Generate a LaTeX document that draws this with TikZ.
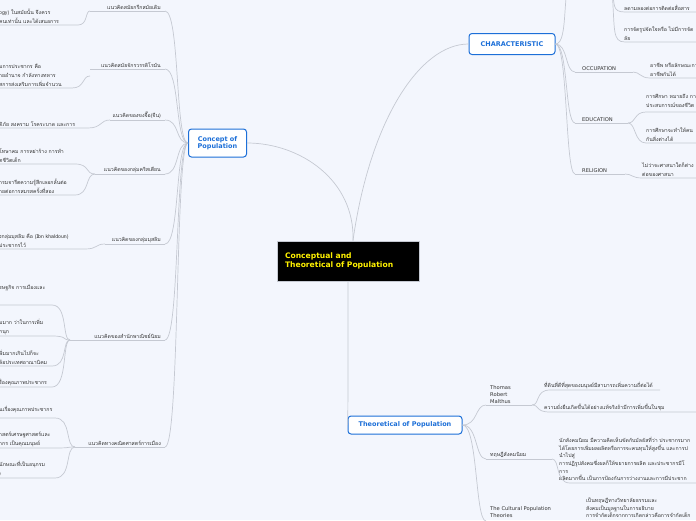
\documentclass[tikz,border=0pt]{standalone}
\usepackage{fontspec}
\setmainfont{DejaVu Sans}
\newfontfamily\thf[Script=Thai]{Loma}
\definecolor{bg}{HTML}{F3F6FD}
\definecolor{ln}{HTML}{C5C9D2}
\definecolor{bl}{HTML}{1C6FD8}
\tikzset{
 ln/.style={draw=ln,line width=0.7pt},
 main/.style={draw=bl,line width=1pt,fill=white,rounded corners=3pt,text=bl,font=\fontsize{6.5}{7.5}\selectfont\bfseries,align=center,inner sep=4pt},
 sub/.style={font=\fontsize{5.2}{6.5}\selectfont,text=black!80,inner sep=1pt},
 lf/.style={font=\thf\fontsize{5.2}{9}\selectfont,text=black!80,align=left,inner sep=1pt},
}
\begin{document}
\begin{tikzpicture}[x=1pt,y=-1pt]
\useasboundingbox (0,0) rectangle (696,520);
\fill[bg] (0,0) rectangle (696,520);
\clip (0,0) rectangle (696,520);
% main nodes
\node[draw=ln,line width=1pt,fill=black,text=yellow,font=\fontsize{7.6}{9.5}\selectfont\bfseries,align=left,minimum width=142pt,minimum height=40pt,text width=126pt] (ctr) at (348,261) {Conceptual and\\Theoretical of Population};
\node[main,minimum width=58pt,minimum height=28pt] (con) at (217.5,143) {Concept of\\Population};
\node[main,minimum width=86pt,minimum height=21pt] (cha) at (512,44) {CHARACTERISTIC};
\node[main,minimum width=114pt,minimum height=18pt] (the) at (405,425) {Theoretical of Population};
\draw[ln] (ctr.north) ++(5,0) .. controls (355,180) and (300,143) .. (con.east);
\draw[ln] (ctr.north) ++(5,0) .. controls (370,120) and (420,44) .. (cha.west);
\draw[ln] (ctr.south) .. controls (348,380) and (348,425) .. (the.west);
% Concept children
\foreach \y/\l/\t in {11/90/{แนวคิดสมัยกรีกสมัยเดิม},69/90/{แนวคิดสมัยจักรวรรดิโรมัน},120/110/{แนวคิดของขงจื๊อ(จีน)},174/95/{แนวคิดของกลุ่มคริสเตียน},244/105/{แนวคิดของกลุ่มมุสลิม},340/70/{แนวคิดของสำนักพาณิชย์นิยม},447/75/{แนวคิดทางคณิตศาสตร์การเมือง}}{
 \node[lf,anchor=south east] at (162,\y) {\t};
 \draw[ln] (\l,\y) -- (165,\y);
 \draw[ln] (con.west) .. controls (175,143) and (180,\y) .. (165,\y);
}
% leaves left
\node[lf,anchor=south west] at (-2,25) {ogy) ในสมัยนั้น จึงควร\\คนเท่านั้น และได้เสนอการ};
\draw[ln] (90,11) .. controls (85,11) and (88,25) .. (78,25) -- (-5,25);
\node[lf,anchor=south west] at (-2,88) {มการประชากร คือ\\ายอำนาจ กำลังทางทหาร\\สการส่งเสริมการเพิ่มจำนวน};
\draw[ln] (90,76) .. controls (82,76) and (85,88) .. (72,88) -- (-5,88);
\node[lf,anchor=south west] at (-2,128) {ดิภัย สงคราม โรคระบาด และการ};
\draw[ln] (110,120) .. controls (100,120) and (102,128) .. (88,128) -- (-5,128);
\node[lf,anchor=south west] at (-2,164) {โทษาคม การหย่าร้าง การทำ\\ิตชีวิตเด็ก};
\node[lf,anchor=south west] at (-2,195) {ารมจารีตความรู้สึกเลอกลั้นต่อ\\ายต่อการสมรสครั้งที่สอง};
\draw[ln] (95,174) .. controls (85,174) and (90,164) .. (75,164) -- (-5,164);
\draw[ln] (95,174) .. controls (85,174) and (90,195) .. (75,195) -- (-5,195);
\node[lf,anchor=south west] at (-2,249) {งกลุ่มมุสลิม คือ (Ibn khaldoun)\\ประชากรไว้};
\draw[ln] (105,244) .. controls (95,244) and (98,249) .. (85,249) -- (-5,249);
\node[lf,anchor=south west] at (-2,292) {รษฐกิจ การเมืองและ};
\node[lf,anchor=south west] at (-2,336) {มมาก ว่าในการเพิ่ม\\กนุก};
\node[lf,anchor=south west] at (-2,366) {พิ่มมากเกินไปก็จะ\\ล้อประเทศอาณานิคม};
\node[lf,anchor=south west] at (-2,387) {รื่องคุณภาพประชากร};
\draw[ln] (70,340) .. controls (62,340) and (68,305) .. (52,305) -- (-5,305);
\draw[ln] (70,340) .. controls (62,340) and (68,336) .. (52,336) -- (-5,336);
\draw[ln] (70,340) .. controls (62,340) and (68,366) .. (52,366) -- (-5,366);
\draw[ln] (70,340) .. controls (62,340) and (68,387) .. (52,387) -- (-5,387);
\node[lf,anchor=south west] at (-2,414) {นเรื่องคุณภาพประชากร};
\node[lf,anchor=south west] at (-2,448) {าสตร์เศรษฐศาสตร์และ\\ากร เป็นคุณมนุษย์};
\node[lf,anchor=south west] at (-2,478) {นักษณะที่เป็นอนุกรม\\)};
\draw[ln] (75,447) .. controls (65,447) and (72,418) .. (55,418) -- (-5,418);
\draw[ln] (75,447) .. controls (65,447) and (72,448) .. (55,448) -- (-5,448);
\draw[ln] (75,447) .. controls (65,447) and (72,478) .. (55,478) -- (-5,478);
% Characteristic children
\draw[ln] (cha.east) .. controls (570,44) and (560,-20) .. (575,-30);
\foreach \y/\r/\t in {72/633/OCCUPATION,123/628/EDUCATION,174/625/RELIGION}{
 \node[sub,anchor=south west] at (581,\y) {\t};
 \draw[ln] (575,\y) -- (\r,\y);
 \draw[ln] (cha.east) .. controls (568,44) and (565,\y) .. (575,\y);
}
\node[lf,anchor=south west] at (623,12) {ลดามลองต่อการติดต่อสื่อสาร};
\node[lf,anchor=south west] at (623,42) {การจัดรูปจัดใจหรือ ไม่มีการจัด\\ลัย};
\draw[ln] (612,-10) .. controls (615,5) and (612,12) .. (625,12) -- (700,12);
\draw[ln] (612,-10) .. controls (615,30) and (612,42) .. (625,42) -- (700,42);
\node[lf,anchor=south west] at (649,78) {อาชีพ หรือลักษณะการ\\อาชีพกันได้};
\draw[ln] (633,72) .. controls (640,72) and (640,78) .. (650,78) -- (700,78);
\node[lf,anchor=south west] at (645,109) {การศึกษา หมายถึง การ\\ประสบการณ์ของชีวิต};
\node[lf,anchor=south west] at (645,143) {การศึกษาจะทำให้คน\\กันสิ่งต่างได้};
\draw[ln] (628,123) .. controls (636,123) and (634,112) .. (646,112) -- (700,112);
\draw[ln] (628,123) .. controls (636,123) and (634,143) .. (646,143) -- (700,143);
\node[lf,anchor=south west] at (641,178) {ไม่ว่าจะศาสนาใดก็ต่าง\\ต่อของศาสนา};
\draw[ln] (625,174) .. controls (632,174) and (632,178) .. (642,178) -- (700,178);
% Theoretical children
\node[sub,anchor=south west,align=left,font=\fontsize{5.2}{7}\selectfont] at (489,405) {Thomas\\Robert\\Malthus};
\node[lf,anchor=south west,font=\thf\fontsize{5.2}{7}\selectfont] at (489,459) {ทฤษฎีสังคมนิยม};
\node[sub,anchor=south west,align=left,font=\fontsize{5.2}{7}\selectfont] at (489,519) {The Cultural Population\\Theories};
\foreach \y/\r in {405/532,459/552,521/582}{
 \draw[ln] (486,\y) -- (\r,\y);
 \draw[ln] (the.east) .. controls (478,425) and (475,\y) .. (486,\y);
}
\node[lf,anchor=south west] at (543,390) {ที่ดินที่ดีที่สุดของมนุษย์มีสามารถเพิ่มความถี่ต่อได้};
\node[lf,anchor=south west] at (543,412) {ความยั่งยืนเกิดขึ้นได้อย่างแท้จริงถ้ามีการเพิ่มขึ้นในชุม};
\draw[ln] (532,405) .. controls (540,405) and (535,390) .. (550,390) -- (660,390);
\draw[ln] (532,405) .. controls (540,405) and (535,412) .. (550,412) -- (700,412);
\node[lf,anchor=south west,font=\thf\fontsize{5.2}{7.6}\selectfont] at (558,482) {นักสังคมนิยม มีความคิดเห็นขัดกับมัลธัสที่ว่า ประชากรมาก\\ได้โดยการเพิ่มผลผลิตหรือการจะคนทุนให้สูงขึ้น และการป\\นำไปสู่\\การปฏิรูปสังคมซึ่งผลก็ให้ขยายการผลิต และประชากรมีโ\\การ\\ผลิตมากขึ้น เป็นการป้องกันการว่างงานและการมีประชาก};
\draw[ln] (552,459) .. controls (560,459) and (555,483) .. (570,483) -- (700,483);
\node[lf,anchor=south west,font=\thf\fontsize{5.2}{7.6}\selectfont] at (585,519) {เป็นทฤษฎีทางวิทยาลัยธรรมและ\\สังคมเป็นมูลฐานในการอธิบาย\\การจำกัดเด็กจากการเกิดกล่าวคือการจำกัดเด็ก};
\end{tikzpicture}
\end{document}
